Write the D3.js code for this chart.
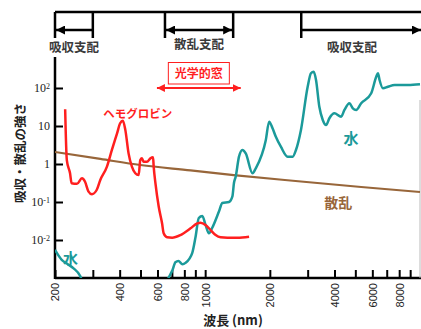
<!DOCTYPE html>
<html>
<head>
<meta charset="utf-8">
<script src="https://cdn.jsdelivr.net/npm/d3@7"></script>
<style>
body{margin:0;background:#fff;}
svg{display:block;}
</style>
</head>
<body>
<div id="container"></div>
<script>
// ticks
var xTicks = [200,300,400,500,600,700,800,900,1000,2000,3000,4000,5000,6000,7000,8000,9000];
var xTickLabels = [200,400,600,800,1000,2000,4000,6000,8000];
var yTicks = [1e-2,1e-1,1,10,100];
var yTickBase = ["10","10","1","10","10"];
var yTickExp = ["-2","-1","","","2"];

// water absorption (wavelength nm, value)
var waterWl  = [200,215,227,244,262,276,350,500,650,675,704,727,751,784,810,871,902,934,970,1004,1041,1079,1159,1202,1291,1339,1362,1387,1437,1491,1545,1661,1720,1916,1985,2059,2133,2251,2419,2554,2646,2792,3000,3108,3200,3281,3400,3527,3654,3786,3995,4294,4449,4694,4868,5045,5323,5929,6256,6373,6482,6724,7096,7616,8801,10000];
var waterVal = [0.0055,0.003,0.0024,0.0018,0.00113,0.0005,0.0002,0.0001,0.0006,0.001,0.0016,0.0026,0.0028,0.0023,0.0025,0.0046,0.012,0.038,0.043,0.025,0.015,0.021,0.056,0.094,0.10,0.14,0.32,0.46,1.56,2.34,1.9,0.57,0.77,4.3,13,8.7,5.2,2.85,1.56,1.56,2.34,7.9,108,244,268,162,32,14.4,10.6,16,21.6,17.6,26.4,39.6,29.2,26.4,39.6,73,198,244,162,98,108,120,120,125];

// hemoglobin
var hbWl  = [223,227,235,239,253,267,276,286,297,313,325,349,368,389,402,414,425,440,456,473,490,499,508,517,536,556,572,576,587,608,630,641,665,702,767,855,919,952,1004,1060,1119,1180,1269,1413,1601];
var hbVal = [27.5,1.27,0.57,0.31,0.30,0.42,0.34,0.19,0.16,0.21,0.38,0.85,2.34,6.4,11.8,13.8,7.9,1.9,0.85,0.57,0.51,1.27,1.41,1.15,1.15,1.41,1.5,0.85,0.31,0.075,0.0275,0.015,0.0118,0.0115,0.0135,0.0203,0.0275,0.0285,0.0248,0.0183,0.0135,0.0118,0.0115,0.0115,0.0122];

// scattering
var scatWl  = [200,325,499,855,1358,2792,5323,10000];
var scatVal = [2.07,1.36,0.94,0.68,0.51,0.346,0.248,0.183];

// dominance regions and optical window (nm)
var regionNames = ["吸収支配","散乱支配","吸収支配"];
var regionFrom  = [200,650,2800];
var regionTo    = [300,1350,10000];
var windowRange = [590,1480];

var W = 421, H = 329;
var svg = d3.select("#container").append("svg")
	.attr("width",W)
	.attr("height",H);

var x = d3.scaleLog().domain([200,10000]).range([55,420]);
var y = d3.scaleLog().domain([1e-3,1e4]).range([278,12]);

var jp = "'Noto Sans CJK JP', 'Noto Sans', sans-serif";
var teal = "#1b9a9a", red = "#ff1f1f", brown = "#98663a";

var defs = svg.append("defs");
function marker(id,color,size) {
	defs.append("marker").attr("id",id)
		.attr("viewBox","0 0 10 10").attr("refX",10).attr("refY",5)
		.attr("markerUnits","userSpaceOnUse")
		.attr("markerWidth",size).attr("markerHeight",size)
		.attr("orient","auto-start-reverse")
		.append("path").attr("d","M0,0L10,5L0,10z").attr("fill",color);
}
marker("ab","#000",9);
marker("ar",red,8);
defs.append("clipPath").attr("id","plotclip").append("rect")
	.attr("x",x(200)).attr("y",y(1e4)).attr("width",x(10000)-x(200)+1).attr("height",y(1e-3)-y(1e4));

// x axis
var xAxis = svg.append("g").attr("transform","translate(0,"+y(1e-3)+")")
	.call(d3.axisBottom(x).tickValues(xTicks).tickSize(-8).tickSizeOuter(0)
		.tickFormat(function(d){ return xTickLabels.indexOf(d)>=0 ? d : ""; }));
xAxis.select(".domain").attr("stroke-width",2.5).attr("d","M"+x(200)+",0H"+W);
xAxis.selectAll(".tick line").attr("stroke-width",2);
xAxis.selectAll(".tick text")
	.attr("transform","rotate(-90)")
	.attr("text-anchor","end")
	.attr("x",-5).attr("y",0).attr("dy","0.36em")
	.style("font-family","'Liberation Sans', Arial, sans-serif")
	.style("font-size","11px").attr("fill","#222");

// y axis
var yAxis = svg.append("g").attr("transform","translate("+x(200)+",0)")
	.call(d3.axisLeft(y).tickValues(yTicks).tickSize(-8).tickSizeOuter(0).tickPadding(5));
yAxis.select(".domain").remove();
yAxis.selectAll(".tick line").attr("stroke-width",2);
yAxis.selectAll(".tick text").each(function(d,i){
	var t = d3.select(this).text("")
		.style("font-family","'Liberation Serif', 'DejaVu Serif', serif")
		.style("font-size","12px").attr("fill","#222");
	t.append("tspan").text(yTickBase[i]);
	if (yTickExp[i]) t.append("tspan").attr("dy","-0.45em").style("font-size","8px").text(yTickExp[i]);
});
svg.append("line").attr("x1",x(200)).attr("x2",x(200)).attr("y1",57).attr("y2",y(1e-3)+1)
	.attr("stroke","#000").attr("stroke-width",2.5);
svg.append("line").attr("x1",420).attr("x2",420).attr("y1",100).attr("y2",y(1e-3))
	.attr("stroke","#bbb").attr("stroke-width",1);

// top frame and dominance brackets
var topY = y(1e4);
svg.append("line").attr("x1",x(200)).attr("x2",W).attr("y1",topY).attr("y2",topY)
	.attr("stroke","#000").attr("stroke-width",2.5);
regionNames.forEach(function(name,i){
	var x0 = x(regionFrom[i]), x1 = x(regionTo[i]);
	var g = svg.append("g");
	[x0,x1].forEach(function(xx,j){
		if (i==2 && j==1) return;
		g.append("line").attr("x1",xx).attr("x2",xx).attr("y1",topY).attr("y2",38)
			.attr("stroke","#000").attr("stroke-width",2.5);
	});
	var a = g.append("line").attr("y1",30).attr("y2",30)
		.attr("stroke","#000").attr("stroke-width",2.5);
	if (i==0) a.attr("x1",x1).attr("x2",x0+1).attr("marker-end","url(#ab)");
	else if (i==1) a.attr("x1",x0+1).attr("x2",x1-1).attr("marker-start","url(#ab)").attr("marker-end","url(#ab)");
	else a.attr("x1",x0).attr("x2",W).attr("marker-end","url(#ab)");
	g.append("text").attr("x",i==2 ? 352 : (x0+x1)/2).attr("y",i==1 ? 49 : 52)
		.attr("text-anchor","middle").style("font-family",jp).style("font-size","12.5px")
		.style("font-weight","bold").attr("fill","#3a3a3a").text(name);
});

// optical window
var wx0 = x(windowRange[0]), wx1 = x(windowRange[1]), wc = (wx0+wx1)/2;
svg.append("line").attr("x1",wx0+1).attr("x2",wx1-1).attr("y1",88).attr("y2",88)
	.attr("stroke",red).attr("stroke-width",2)
	.attr("marker-start","url(#ar)").attr("marker-end","url(#ar)");
svg.append("rect").attr("x",wc-30.5).attr("y",62.5).attr("width",61).attr("height",21.5)
	.attr("fill","#fff").attr("stroke",red).attr("stroke-width",1);
svg.append("text").attr("x",wc).attr("y",78).attr("text-anchor","middle")
	.style("font-family",jp).style("font-size","12px").style("font-weight","bold")
	.attr("fill",red).text("光学的窓");

// curves
var line = d3.line().x(function(d){return x(d[0]);}).y(function(d){return y(d[1]);})
	.curve(d3.curveMonotoneX);
var plot = svg.append("g").attr("clip-path","url(#plotclip)");
plot.append("path").datum(d3.zip(scatWl,scatVal)).attr("d",line)
	.attr("fill","none").attr("stroke",brown).attr("stroke-width",2.2);
plot.append("path").datum(d3.zip(waterWl,waterVal)).attr("d",line)
	.attr("fill","none").attr("stroke",teal).attr("stroke-width",2.5).attr("stroke-linejoin","round");
plot.append("path").datum(d3.zip(hbWl,hbVal)).attr("d",line)
	.attr("fill","none").attr("stroke",red).attr("stroke-width",2.5).attr("stroke-linejoin","round");

// curve labels
function label(txt,wl,v,color,size){
	svg.append("text").attr("x",x(wl)).attr("y",y(v)).attr("text-anchor","middle")
		.attr("dominant-baseline","central")
		.style("font-family",jp).style("font-size",size).style("font-weight","bold")
		.attr("fill",color).text(txt);
}
label("ヘモグロビン",485,22,red,"11.5px");
label("水",4780,5,teal,"15px");
label("水",236,0.0034,teal,"15px");
label("散乱",4160,0.1,brown,"14px");

// axis titles
svg.append("text").attr("transform","translate(19,153) rotate(-90)")
	.attr("text-anchor","middle").attr("dominant-baseline","central")
	.style("font-family",jp).style("font-size","12.5px").style("font-weight","bold")
	.attr("fill","#222").text("吸収・散乱の強さ");
svg.append("text").attr("x",233).attr("y",325).attr("text-anchor","middle")
	.style("font-family",jp).style("font-size","13px").style("font-weight","bold")
	.attr("fill","#222").text("波長 (nm)");
</script>
</body>
</html>
